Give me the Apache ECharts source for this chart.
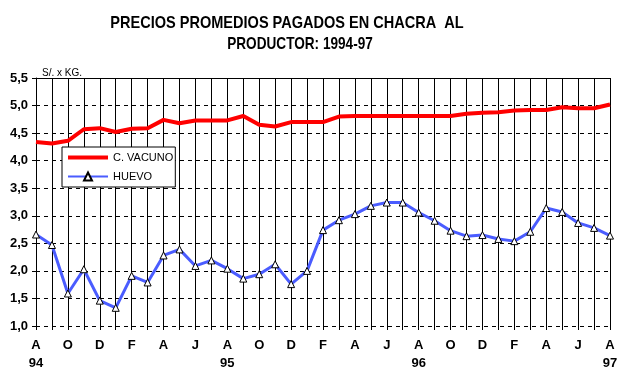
<!DOCTYPE html>
<html>
<head>
<meta charset="utf-8">
<script src="https://cdn.jsdelivr.net/npm/echarts@6/dist/echarts.min.js"></script>
<style>
html,body{margin:0;padding:0;background:#fff;}
#c{width:623px;height:378px;}
</style>
</head>
<body>
<div id="c"></div>
<script>
var months = ['A','S','O','N','D','E','F','M','A','M','J','J',
              'A','S','O','N','D','E','F','M','A','M','J','J',
              'A','S','O','N','D','E','F','M','A','M','J','J','A'];
var years = ['94','','','','','','','','','','','',
             '95','','','','','','','','','','','',
             '96','','','','','','','','','','','','97'];
var vacuno = [4.34,4.31,4.36,4.57,4.59,4.52,4.58,4.59,4.74,4.68,4.73,4.73,
              4.73,4.81,4.65,4.62,4.70,4.70,4.70,4.80,4.81,4.81,4.81,4.81,
              4.81,4.81,4.81,4.85,4.87,4.88,4.91,4.92,4.92,4.97,4.95,4.95,5.02];
var huevo = [2.66,2.47,1.59,2.03,1.46,1.33,1.91,1.79,2.28,2.39,2.09,2.19,
             2.04,1.86,1.94,2.12,1.76,2.00,2.74,2.92,3.03,3.18,3.24,3.24,
             3.06,2.91,2.73,2.63,2.65,2.58,2.54,2.71,3.14,3.07,2.87,2.78,2.64];
var yTicks = [1.0,1.5,2.0,2.5,3.0,3.5,4.0,4.5,5.0,5.5];

var cats = months.map(function(m,i){return m + '\n' + years[i];});
var chart = echarts.init(document.getElementById('c'), null, {renderer:'canvas'});
var FONT = '"Liberation Sans", Arial, sans-serif';
chart.setOption({
  animation:false,
  backgroundColor:'#fff',
  textStyle:{fontFamily:FONT},
  graphic:[
    {type:'text', x:287, y:23.5, scaleX:0.855,
     style:{text:'PRECIOS PROMEDIOS PAGADOS EN CHACRA  AL', font:'bold 17px '+FONT, fill:'#000', textAlign:'center', textVerticalAlign:'middle'}},
    {type:'text', x:300, y:44.5, scaleX:0.8,
     style:{text:'PRODUCTOR: 1994-97', font:'bold 17px '+FONT, fill:'#000', textAlign:'center', textVerticalAlign:'middle'}},
    {type:'text', x:42, y:73,
     style:{text:'S/. x KG.', font:'10px '+FONT, fill:'#000', textVerticalAlign:'middle'}}
  ],
  grid:{left:36,right:13,top:78,bottom:52},
  legend:{
    orient:'vertical', left:62, top:147,
    padding:[5,2,5,4], itemGap:8, itemWidth:40, itemHeight:10,
    backgroundColor:'#fff', borderColor:'#000', borderWidth:1, borderRadius:0,
    textStyle:{fontSize:11, fontFamily:FONT, color:'#000'},
    data:[{name:'C. VACUNO', itemStyle:{color:'rgba(0,0,0,0)', borderWidth:0, opacity:0}, lineStyle:{width:4, color:'#ff0000'}},
          {name:'HUEVO', lineStyle:{width:2, color:'#4a5cff'}}]
  },
  xAxis:[{
    type:'category', data:cats, boundaryGap:false,
    axisLine:{show:false},
    axisTick:{show:true, interval:0, length:4, lineStyle:{color:'#000'}},
    axisLabel:{interval:1, color:'#000', fontWeight:'bold', fontSize:13, fontFamily:FONT, margin:10, lineHeight:18},
    splitLine:{show:true, interval:0, lineStyle:{color:'#000', width:1, type:'solid'}}
  },{
    type:'category', data:cats, boundaryGap:false, position:'top',
    axisLine:{show:true, lineStyle:{color:'#000', width:1}},
    axisTick:{show:false}, axisLabel:{show:false}, splitLine:{show:false}
  }],
  yAxis:{
    type:'value', min:1.0, max:5.5, interval:0.5,
    axisLine:{show:true, lineStyle:{color:'#000'}},
    axisTick:{show:true, length:4, lineStyle:{color:'#000'}},
    axisLabel:{color:'#000', fontWeight:'bold', fontSize:13, fontFamily:FONT, margin:8,
      formatter:function(v){return v.toFixed(1).replace('.',',');}},
    splitLine:{show:true, lineStyle:{color:'#000', width:1, type:[4,4]}}
  },
  series:[{
    name:'C. VACUNO', type:'line', data:vacuno, showSymbol:false, symbol:'none',
    lineStyle:{color:'#ff0000', width:4}, itemStyle:{color:'#ff0000'}, z:3
  },{
    name:'HUEVO', type:'line', data:huevo, symbol:'triangle', symbolSize:7,
    lineStyle:{color:'#4a5cff', width:3},
    itemStyle:{color:'#fff', borderColor:'#000', borderWidth:1}, z:4
  }]
});
</script>
</body>
</html>
